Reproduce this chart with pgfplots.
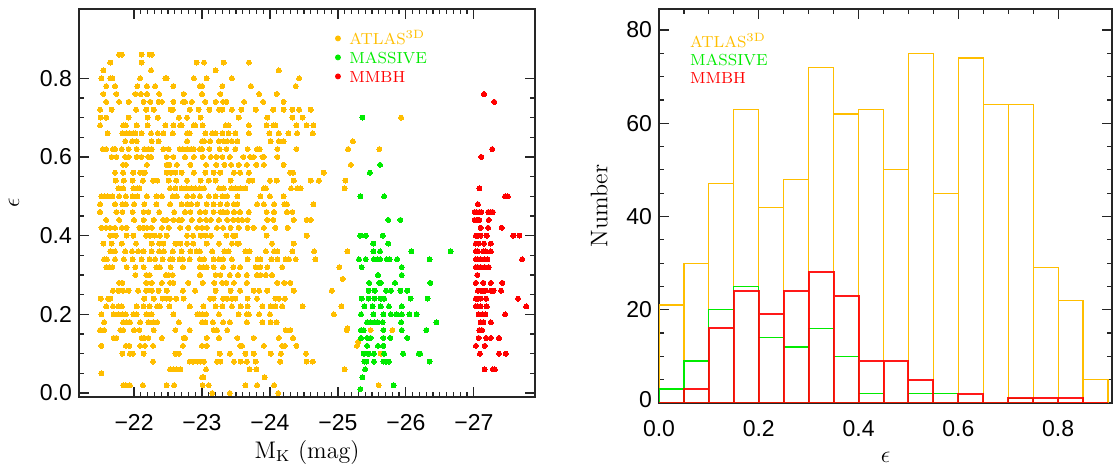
\documentclass[border=0pt]{standalone}
\usepackage{fontspec}
\usepackage{pgfplots}
\pgfplotsset{compat=1.18}
\newfontfamily\tickfont{Liberation Sans}
\definecolor{atlas}{RGB}{255,190,0}
\definecolor{massive}{RGB}{0,235,0}
\definecolor{mmbh}{RGB}{255,0,0}
\pgfplotsset{
  common/.style={
    scale only axis,
    axis line style={black!85, line width=0.7pt},
    tick style={black!85, line width=0.6pt},
    tick align=inside,
    major tick length=5pt, minor tick length=2.5pt,
    tick label style={font=\fontsize{11.5}{12}\tickfont},
    xticklabel style={yshift=-5pt},
    /pgf/number format/assume math mode=true,
    label style={font=\fontsize{12}{13}\selectfont},
  },
  dots/.style={only marks, mark=*, mark size=1.25pt, color=#1,
    mark options={fill=#1, draw=#1, line width=0pt}},
}
\begin{document}
\begin{tikzpicture}
\useasboundingbox (0,0) rectangle (558pt,233pt);
% ---------------- left panel ----------------
\begin{axis}[common, at={(39.5pt,34.5pt)}, anchor=south west,
  width=228pt, height=194pt,
  x dir=reverse, xmin=-27.9, xmax=-21.19, ymin=-0.01, ymax=0.976,
  xtick={-27,-26,-25,-24,-23,-22}, xticklabels={−27,−26,−25,−24,−23,−22},
  minor x tick num=9,
  ytick={0,0.2,0.4,0.6,0.8}, minor y tick num=3,
  yticklabel style={/pgf/number format/.cd, fixed, fixed zerofill, precision=1},
  xlabel={M$_{\mathrm{K}}$ (mag)}, ylabel={$\epsilon$},
  xlabel style={at={(axis description cs:0.5,-0.142)}, anchor=center},
  ylabel style={at={(axis description cs:-0.1425,0.5)}, anchor=center},
  legend cell align=left,
  legend style={at={(axis description cs:0.553,0.944)}, anchor=north west,
    draw=none, fill=none, font=\fontsize{8}{9}\selectfont, inner sep=0pt,
    row sep=2.2pt, nodes={inner sep=0.5pt, text height=6pt, text depth=0.3pt}},
]
\addplot[dots=atlas, legend image code/.code={\path (0pt,0pt) (8pt,0pt); \fill (3pt,0pt) circle (1.25pt);}] coordinates {
(-21.78,0.86) (-21.82,0.86) (-22.11,0.86) (-22.23,0.86) (-22.26,0.86)
(-21.65,0.84) (-22.11,0.84) (-22.92,0.84) (-23.03,0.84) (-23.32,0.84) (-23.69,0.84)
(-21.55,0.82) (-22.25,0.82) (-23.20,0.82) (-24.13,0.82)
(-21.52,0.80) (-21.65,0.80) (-21.68,0.80) (-22.09,0.80) (-22.46,0.80) (-22.48,0.80) (-22.88,0.80) (-23.07,0.80) (-23.44,0.80) (-24.43,0.80)
(-21.59,0.78) (-21.72,0.78) (-22.05,0.78) (-22.19,0.78) (-22.31,0.78) (-22.58,0.78) (-22.97,0.78) (-23.00,0.78) (-23.30,0.78) (-23.72,0.78) (-24.38,0.78)
(-21.55,0.76) (-21.74,0.76) (-22.02,0.76) (-22.10,0.76) (-22.19,0.76) (-22.37,0.76) (-22.73,0.76) (-23.00,0.76) (-23.27,0.76) (-23.84,0.76) (-24.10,0.76)
(-21.59,0.74) (-21.78,0.74) (-21.92,0.74) (-22.14,0.74) (-22.24,0.74) (-22.36,0.74) (-22.41,0.74) (-22.58,0.74) (-22.72,0.74) (-22.75,0.74) (-22.85,0.74) (-23.05,0.74) (-23.20,0.74) (-23.31,0.74) (-23.36,0.74) (-23.62,0.74) (-23.90,0.74) (-24.20,0.74)
(-21.50,0.72) (-21.67,0.72) (-22.03,0.72) (-22.18,0.72) (-22.29,0.72) (-22.54,0.72) (-22.57,0.72) (-22.82,0.72) (-22.95,0.72) (-23.11,0.72) (-23.25,0.72) (-23.30,0.72) (-23.44,0.72) (-23.58,0.72) (-23.79,0.72) (-24.05,0.72) (-24.20,0.72) (-24.33,0.72) (-24.43,0.72) (-24.60,0.72)
(-21.51,0.70) (-21.59,0.70) (-21.92,0.70) (-22.20,0.70) (-22.35,0.70) (-22.66,0.70) (-22.78,0.70) (-22.98,0.70) (-23.54,0.70) (-23.96,0.70) (-24.33,0.70) (-24.48,0.70)
(-21.50,0.68) (-21.84,0.68) (-21.88,0.68) (-22.04,0.68) (-22.20,0.68) (-22.46,0.68) (-22.58,0.68) (-22.68,0.68) (-22.70,0.68) (-22.88,0.68) (-22.90,0.68) (-23.01,0.68) (-23.35,0.68) (-23.39,0.68) (-23.69,0.68) (-23.95,0.68) (-24.05,0.68) (-24.08,0.68) (-24.39,0.68) (-24.54,0.68) (-24.64,0.68)
(-21.61,0.66) (-21.83,0.66) (-21.89,0.66) (-21.94,0.66) (-21.99,0.66) (-22.02,0.66) (-22.11,0.66) (-22.25,0.66) (-22.35,0.66) (-22.43,0.66) (-22.57,0.66) (-22.78,0.66) (-22.82,0.66) (-23.05,0.66) (-23.15,0.66) (-23.20,0.66) (-23.30,0.66) (-23.39,0.66) (-23.49,0.66) (-23.69,0.66) (-23.99,0.66) (-24.13,0.66) (-24.27,0.66) (-24.40,0.66) (-24.63,0.66)
(-21.87,0.64) (-21.97,0.64) (-22.04,0.64) (-22.26,0.64) (-22.36,0.64) (-22.78,0.64) (-23.00,0.64) (-23.03,0.64) (-23.12,0.64) (-23.25,0.64) (-23.32,0.64) (-23.37,0.64) (-23.44,0.64) (-23.52,0.64) (-24.01,0.64) (-24.13,0.64) (-24.20,0.64)
(-21.54,0.62) (-21.59,0.62) (-21.69,0.62) (-21.72,0.62) (-21.82,0.62) (-21.92,0.62) (-22.04,0.62) (-22.15,0.62) (-22.21,0.62) (-22.26,0.62) (-22.43,0.62) (-22.51,0.62) (-22.67,0.62) (-22.72,0.62) (-22.78,0.62) (-22.84,0.62) (-22.88,0.62) (-22.97,0.62) (-23.00,0.62) (-23.11,0.62) (-23.26,0.62) (-23.36,0.62) (-23.49,0.62) (-23.67,0.62) (-23.81,0.62) (-23.85,0.62) (-24.11,0.62) (-24.39,0.62)
(-21.67,0.60) (-21.74,0.60) (-21.87,0.60) (-21.92,0.60) (-22.04,0.60) (-22.11,0.60) (-22.21,0.60) (-22.25,0.60) (-22.48,0.60) (-22.58,0.60) (-22.75,0.60) (-22.88,0.60) (-23.01,0.60) (-23.13,0.60) (-23.21,0.60) (-23.30,0.60) (-23.41,0.60) (-23.61,0.60) (-23.71,0.60) (-23.76,0.60) (-23.89,0.60) (-23.91,0.60) (-24.11,0.60)
(-21.84,0.58) (-21.88,0.58) (-22.19,0.58) (-22.48,0.58) (-22.52,0.58) (-22.63,0.58) (-22.83,0.58) (-23.06,0.58) (-23.21,0.58) (-23.33,0.58) (-23.43,0.58) (-23.54,0.58) (-23.66,0.58) (-23.80,0.58) (-23.91,0.58) (-24.20,0.58)
(-21.72,0.56) (-21.84,0.56) (-21.99,0.56) (-22.09,0.56) (-22.13,0.56) (-22.16,0.56) (-22.48,0.56) (-22.54,0.56) (-22.61,0.56) (-22.70,0.56) (-22.88,0.56) (-23.05,0.56) (-23.17,0.56) (-23.27,0.56) (-23.47,0.56) (-23.56,0.56) (-23.69,0.56) (-24.30,0.56) (-24.34,0.56) (-24.79,0.56)
(-21.73,0.54) (-21.85,0.54) (-21.98,0.54) (-22.13,0.54) (-22.28,0.54) (-22.34,0.54) (-22.51,0.54) (-22.62,0.54) (-22.78,0.54) (-22.98,0.54) (-23.10,0.54) (-23.20,0.54) (-23.42,0.54) (-23.69,0.54) (-23.74,0.54) (-24.00,0.54) (-24.10,0.54) (-24.35,0.54) (-24.60,0.54) (-24.72,0.54)
(-21.77,0.52) (-21.84,0.52) (-21.99,0.52) (-22.05,0.52) (-22.08,0.52) (-22.53,0.52) (-22.61,0.52) (-22.70,0.52) (-22.77,0.52) (-22.84,0.52) (-22.90,0.52) (-22.97,0.52) (-23.03,0.52) (-23.25,0.52) (-23.32,0.52) (-23.43,0.52) (-23.49,0.52) (-23.57,0.52) (-23.64,0.52) (-23.91,0.52) (-23.94,0.52) (-24.31,0.52) (-24.40,0.52) (-24.45,0.52)
(-21.52,0.50) (-21.57,0.50) (-21.61,0.50) (-21.68,0.50) (-21.78,0.50) (-21.88,0.50) (-21.98,0.50) (-22.05,0.50) (-22.19,0.50) (-22.33,0.50) (-22.41,0.50) (-22.57,0.50) (-22.63,0.50) (-22.78,0.50) (-22.87,0.50) (-22.97,0.50) (-23.10,0.50) (-23.20,0.50) (-23.30,0.50) (-23.37,0.50) (-23.52,0.50) (-23.86,0.50) (-24.00,0.50) (-24.20,0.50)
(-21.50,0.48) (-21.72,0.48) (-21.83,0.48) (-21.88,0.48) (-22.00,0.48) (-22.15,0.48) (-22.33,0.48) (-22.53,0.48) (-22.70,0.48) (-22.78,0.48) (-22.84,0.48) (-22.93,0.48) (-23.07,0.48) (-23.17,0.48) (-23.27,0.48) (-23.37,0.48) (-23.47,0.48) (-23.52,0.48) (-23.81,0.48) (-23.91,0.48) (-24.06,0.48) (-24.21,0.48) (-24.25,0.48) (-24.64,0.48)
(-21.50,0.46) (-21.74,0.46) (-21.83,0.46) (-21.98,0.46) (-22.14,0.46) (-22.21,0.46) (-22.37,0.46) (-22.59,0.46) (-22.75,0.46) (-22.83,0.46) (-22.97,0.46) (-23.05,0.46) (-23.17,0.46) (-23.27,0.46) (-23.31,0.46) (-23.37,0.46) (-23.47,0.46) (-23.56,0.46) (-23.69,0.46) (-23.95,0.46) (-24.06,0.46) (-24.25,0.46) (-24.33,0.46)
(-21.59,0.44) (-21.78,0.44) (-22.00,0.44) (-22.14,0.44) (-22.29,0.44) (-22.43,0.44) (-22.48,0.44) (-22.58,0.44) (-22.66,0.44) (-22.70,0.44) (-22.85,0.44) (-22.97,0.44) (-23.06,0.44) (-23.13,0.44) (-23.25,0.44) (-23.37,0.44) (-23.46,0.44) (-23.53,0.44) (-23.59,0.44) (-23.67,0.44) (-23.96,0.44) (-24.05,0.44) (-24.35,0.44) (-24.54,0.44) (-24.60,0.44)
(-21.52,0.42) (-21.59,0.42) (-21.65,0.42) (-21.72,0.42) (-21.82,0.42) (-21.89,0.42) (-22.08,0.42) (-22.14,0.42) (-22.19,0.42) (-22.26,0.42) (-22.41,0.42) (-22.51,0.42) (-22.68,0.42) (-22.80,0.42) (-22.93,0.42) (-23.00,0.42) (-23.07,0.42) (-23.22,0.42) (-23.31,0.42) (-23.42,0.42) (-23.54,0.42) (-23.67,0.42) (-23.76,0.42) (-23.91,0.42) (-24.08,0.42) (-24.26,0.42)
(-21.65,0.40) (-21.73,0.40) (-21.89,0.40) (-21.99,0.40) (-22.18,0.40) (-22.23,0.40) (-22.30,0.40) (-22.38,0.40) (-22.48,0.40) (-22.78,0.40) (-22.87,0.40) (-22.98,0.40) (-23.05,0.40) (-23.13,0.40) (-23.36,0.40) (-23.46,0.40) (-23.49,0.40) (-23.95,0.40) (-24.54,0.40)
(-21.55,0.38) (-21.67,0.38) (-21.82,0.38) (-22.03,0.38) (-22.26,0.38) (-22.37,0.38) (-22.43,0.38) (-22.61,0.38) (-22.63,0.38) (-22.68,0.38) (-22.78,0.38) (-22.87,0.38) (-23.07,0.38) (-23.25,0.38) (-23.44,0.38) (-23.52,0.38) (-23.54,0.38) (-24.03,0.38) (-24.35,0.38)
(-21.65,0.36) (-21.72,0.36) (-21.87,0.36) (-21.97,0.36) (-22.06,0.36) (-22.14,0.36) (-22.26,0.36) (-22.37,0.36) (-22.44,0.36) (-22.57,0.36) (-22.70,0.36) (-22.83,0.36) (-22.92,0.36) (-22.97,0.36) (-23.15,0.36) (-23.33,0.36) (-23.39,0.36) (-23.64,0.36) (-23.70,0.36) (-23.94,0.36) (-24.06,0.36) (-24.11,0.36) (-24.33,0.36) (-24.65,0.36)
(-21.56,0.34) (-21.60,0.34) (-21.72,0.34) (-21.85,0.34) (-21.98,0.34) (-22.11,0.34) (-22.23,0.34) (-22.31,0.34) (-22.42,0.34) (-22.53,0.34) (-22.57,0.34) (-22.67,0.34) (-22.72,0.34) (-22.82,0.34) (-22.97,0.34) (-23.03,0.34) (-23.17,0.34) (-23.25,0.34) (-23.31,0.34) (-23.44,0.34) (-23.67,0.34) (-23.82,0.34) (-23.86,0.34) (-24.02,0.34) (-24.11,0.34) (-24.23,0.34) (-24.28,0.34) (-24.38,0.34) (-24.67,0.34)
(-21.59,0.32) (-21.64,0.32) (-21.68,0.32) (-21.89,0.32) (-22.02,0.32) (-22.14,0.32) (-22.33,0.32) (-22.38,0.32) (-22.54,0.32) (-22.72,0.32) (-22.97,0.32) (-23.02,0.32) (-23.07,0.32) (-23.17,0.32) (-23.31,0.32) (-23.46,0.32) (-23.56,0.32) (-23.79,0.32) (-23.86,0.32) (-23.96,0.32) (-24.18,0.32)
(-22.02,0.30) (-22.18,0.30) (-22.23,0.30) (-22.47,0.30) (-22.51,0.30) (-22.57,0.30) (-22.97,0.30) (-23.20,0.30) (-23.27,0.30) (-23.41,0.30) (-23.53,0.30) (-23.66,0.30) (-23.81,0.30) (-23.86,0.30) (-23.94,0.30) (-24.03,0.30)
(-21.78,0.28) (-21.83,0.28) (-22.18,0.28) (-22.26,0.28) (-22.41,0.28) (-22.53,0.28) (-22.58,0.28) (-22.80,0.28) (-23.01,0.28) (-23.18,0.28) (-23.30,0.28) (-23.36,0.28) (-23.47,0.28) (-23.66,0.28) (-24.11,0.28) (-24.21,0.28) (-24.30,0.28)
(-21.69,0.26) (-21.77,0.26) (-21.84,0.26) (-21.92,0.26) (-22.06,0.26) (-22.18,0.26) (-22.26,0.26) (-22.36,0.26) (-22.48,0.26) (-22.72,0.26) (-22.90,0.26) (-23.20,0.26) (-23.42,0.26) (-23.56,0.26) (-23.76,0.26) (-23.84,0.26) (-23.96,0.26) (-24.35,0.26)
(-21.51,0.24) (-21.62,0.24) (-21.65,0.24) (-22.15,0.24) (-22.29,0.24) (-22.42,0.24) (-22.48,0.24) (-22.53,0.24) (-22.62,0.24) (-22.73,0.24) (-23.12,0.24) (-23.17,0.24) (-23.31,0.24) (-23.37,0.24) (-23.44,0.24) (-23.49,0.24) (-23.67,0.24) (-23.81,0.24) (-24.08,0.24) (-24.13,0.24) (-24.22,0.24)
(-21.59,0.22) (-21.69,0.22) (-21.77,0.22) (-21.82,0.22) (-22.04,0.22) (-22.14,0.22) (-22.23,0.22) (-22.34,0.22) (-22.38,0.22) (-22.52,0.22) (-22.82,0.22) (-23.02,0.22) (-23.20,0.22) (-23.30,0.22) (-23.44,0.22) (-23.57,0.22) (-23.67,0.22) (-23.89,0.22) (-24.01,0.22) (-24.08,0.22) (-24.18,0.22) (-24.48,0.22)
(-21.52,0.20) (-21.70,0.20) (-21.77,0.20) (-21.83,0.20) (-21.88,0.20) (-21.99,0.20) (-22.04,0.20) (-22.18,0.20) (-22.26,0.20) (-22.58,0.20) (-22.93,0.20) (-22.97,0.20) (-23.00,0.20) (-23.06,0.20) (-23.25,0.20) (-23.54,0.20) (-23.66,0.20) (-23.69,0.20) (-23.84,0.20) (-24.00,0.20)
(-21.56,0.18) (-21.84,0.18) (-21.89,0.18) (-21.94,0.18) (-22.09,0.18) (-22.21,0.18) (-22.28,0.18) (-22.34,0.18) (-22.66,0.18) (-23.00,0.18) (-23.05,0.18) (-23.16,0.18) (-23.31,0.18) (-23.41,0.18) (-23.66,0.18) (-23.89,0.18) (-24.01,0.18) (-24.10,0.18)
(-21.50,0.16) (-21.56,0.16) (-21.80,0.16) (-21.84,0.16) (-22.00,0.16) (-22.08,0.16) (-22.29,0.16) (-22.61,0.16) (-22.82,0.16) (-23.17,0.16) (-23.22,0.16) (-23.37,0.16) (-24.23,0.16) (-24.30,0.16)
(-21.70,0.14) (-21.74,0.14) (-22.11,0.14) (-22.15,0.14) (-22.21,0.14) (-22.41,0.14) (-22.73,0.14) (-22.75,0.14) (-23.07,0.14) (-23.25,0.14) (-23.52,0.14) (-23.76,0.14) (-24.13,0.14) (-24.34,0.14)
(-21.52,0.12) (-21.88,0.12) (-21.93,0.12) (-22.09,0.12) (-22.16,0.12) (-22.28,0.12) (-22.72,0.12) (-23.00,0.12) (-23.07,0.12) (-23.56,0.12) (-23.59,0.12) (-23.91,0.12) (-24.18,0.12) (-24.22,0.12) (-24.39,0.12)
(-21.83,0.10) (-21.94,0.10) (-21.98,0.10) (-22.14,0.10) (-22.61,0.10) (-22.66,0.10) (-23.26,0.10) (-23.41,0.10) (-23.64,0.10) (-23.76,0.10) (-24.01,0.10) (-24.16,0.10) (-24.53,0.10)
(-22.28,0.08) (-22.82,0.08) (-22.87,0.08) (-22.93,0.08) (-22.98,0.08) (-23.03,0.08) (-23.22,0.08) (-23.27,0.08) (-23.47,0.08) (-23.57,0.08) (-23.66,0.08) (-23.79,0.08) (-24.15,0.08) (-24.54,0.08) (-24.63,0.08)
(-22.53,0.06) (-22.58,0.06) (-22.62,0.06) (-22.68,0.06) (-23.06,0.06) (-23.70,0.06) (-23.80,0.06) (-21.52,0.05)
(-23.00,0.04) (-23.02,0.04) (-23.92,0.04)
(-21.84,0.02) (-21.88,0.02) (-21.94,0.02) (-22.13,0.02) (-22.48,0.02) (-22.59,0.02) (-23.01,0.02) (-23.10,0.02) (-23.64,0.02) (-23.81,0.02) (-24.06,0.02)
(-23.15,0.00) (-23.41,0.00) (-24.12,0.00)
(-25.93,0.70) (-25.22,0.64) (-25.15,0.62) (-25.61,0.62) (-25.19,0.58) (-25.11,0.54) (-25.10,0.52)
(-25.14,0.36) (-25.02,0.32) (-25.07,0.29) (-24.91,0.26) (-25.05,0.22) (-24.94,0.20) (-25.13,0.16) (-25.14,0.165)
(-25.48,0.16) (-25.80,0.16) (-25.30,0.13) (-25.28,0.12) (-25.63,0.10) (-25.10,0.06) (-25.60,0.02)
};
\addlegendentry{\textcolor{atlas}{ATLAS$^{\mathrm{3D}}$}}
\addplot[dots=massive, legend image code/.code={\path (0pt,0pt) (8pt,0pt); \fill (3pt,0pt) circle (1.25pt);}] coordinates {
(-25.36,0.70) (-25.62,0.58) (-25.47,0.56) (-25.33,0.50) (-25.68,0.50) (-25.74,0.44) (-25.92,0.44)
(-25.33,0.40) (-25.41,0.40) (-25.66,0.40)
(-25.52,0.38) (-25.74,0.38)
(-25.52,0.36) (-25.62,0.36) (-26.08,0.36) (-26.66,0.36)
(-25.31,0.34) (-25.41,0.34) (-25.53,0.34) (-25.58,0.34) (-25.62,0.34) (-25.72,0.34) (-25.76,0.34) (-25.87,0.34) (-26.35,0.34)
(-25.35,0.32) (-25.94,0.32)
(-25.59,0.30) (-25.94,0.30)
(-25.46,0.28) (-25.61,0.28) (-25.63,0.28) (-25.84,0.28) (-26.36,0.28)
(-25.45,0.26) (-25.54,0.26) (-25.71,0.26) (-25.78,0.26) (-25.92,0.26) (-26.02,0.26)
(-25.35,0.24) (-25.45,0.24) (-25.54,0.24) (-25.63,0.24) (-25.68,0.24) (-26.07,0.24) (-26.32,0.24)
(-25.39,0.22) (-25.51,0.22) (-25.63,0.22) (-25.75,0.22) (-25.94,0.22)
(-25.34,0.20) (-25.52,0.20) (-25.67,0.20) (-25.78,0.20) (-25.86,0.20) (-25.94,0.20) (-26.05,0.20) (-26.16,0.20)
(-25.43,0.18) (-25.48,0.18) (-25.54,0.18) (-25.58,0.18) (-25.66,0.18) (-25.93,0.18) (-26.45,0.18)
(-25.34,0.16) (-25.38,0.16) (-25.67,0.16) (-25.94,0.16) (-26.30,0.16)
(-25.34,0.14) (-25.43,0.14) (-25.48,0.14) (-25.67,0.14) (-25.77,0.14) (-26.02,0.14)
(-25.43,0.12) (-25.59,0.12) (-25.67,0.12)
(-25.38,0.10) (-25.45,0.10) (-25.53,0.10) (-25.68,0.10) (-25.96,0.10) (-26.19,0.10) (-26.21,0.10)
(-25.39,0.08) (-25.42,0.08) (-25.53,0.08) (-25.67,0.08) (-25.71,0.08) (-25.75,0.08) (-26.35,0.08)
(-25.40,0.06) (-25.36,0.04) (-25.82,0.02) (-25.33,0.01)
};
\addlegendentry{\textcolor{massive}{MASSIVE}}
\addplot[dots=mmbh, legend image code/.code={\path (0pt,0pt) (8pt,0pt); \fill (3pt,0pt) circle (1.25pt);}] coordinates {
(-27.15,0.76) (-27.30,0.74) (-27.27,0.62) (-27.11,0.60) (-27.08,0.52) (-27.46,0.50) (-27.50,0.50) (-27.06,0.48)
(-27.01,0.46) (-27.04,0.46) (-27.08,0.46) (-27.11,0.46) (-27.21,0.46) (-27.25,0.46) (-27.28,0.46)
(-27.01,0.44) (-27.05,0.44) (-27.08,0.44) (-27.22,0.44)
(-27.10,0.42) (-27.21,0.42) (-27.41,0.42)
(-27.03,0.40) (-27.06,0.40) (-27.10,0.40) (-27.19,0.40) (-27.58,0.40) (-27.67,0.40)
(-27.03,0.38) (-27.07,0.38) (-27.15,0.38) (-27.25,0.38)
(-27.03,0.36) (-27.06,0.36) (-27.14,0.36) (-27.17,0.36) (-27.25,0.36)
(-27.03,0.34) (-27.06,0.34) (-27.10,0.34) (-27.16,0.34) (-27.20,0.34) (-27.71,0.34)
(-27.03,0.32) (-27.06,0.32) (-27.10,0.32) (-27.16,0.32) (-27.22,0.32)
(-27.05,0.30)
(-27.03,0.28) (-27.14,0.28) (-27.25,0.28) (-27.42,0.28)
(-27.06,0.26) (-27.10,0.26) (-27.14,0.26) (-27.17,0.26) (-27.25,0.26) (-27.29,0.26) (-27.40,0.26)
(-27.03,0.24) (-27.06,0.24) (-27.10,0.24) (-27.18,0.24) (-27.65,0.24)
(-27.03,0.22) (-27.06,0.22) (-27.10,0.22) (-27.19,0.22) (-27.77,0.22)
(-27.07,0.20) (-27.13,0.20) (-27.17,0.20) (-27.46,0.20)
(-27.10,0.18) (-27.14,0.18) (-27.25,0.18)
(-27.08,0.16) (-27.12,0.16)
(-27.07,0.14) (-27.18,0.14) (-27.25,0.14) (-27.37,0.14)
(-27.03,0.12) (-27.16,0.12)
(-27.09,0.10) (-27.37,0.10) (-27.47,0.10)
(-27.16,0.06) (-27.28,0.06) (-27.31,0.06)
};
\addlegendentry{\textcolor{mmbh}{MMBH}}
\end{axis}
% ---------------- right panel ----------------
\begin{axis}[common, at={(329.5pt,31.5pt)}, anchor=south west,
  width=226.5pt, height=197pt,
  xmin=0, xmax=0.908, ymin=0, ymax=84.5,
  xtick={0,0.2,0.4,0.6,0.8}, minor x tick num=3,
  ytick={0,20,40,60,80}, minor y tick num=3,
  yticklabels={\raisebox{3.5pt}{0},20,40,60,80},
  xticklabel style={/pgf/number format/.cd, fixed, fixed zerofill, precision=1},
  xlabel={$\epsilon$}, ylabel={Number},
  xlabel style={at={(axis description cs:0.5,-0.137)}, anchor=center},
  ylabel style={at={(axis description cs:-0.132,0.5)}, anchor=center},
]
\addplot[ybar interval, draw=atlas, fill=none, line width=0.6pt] coordinates {
(0,21) (0.05,30) (0.1,47) (0.15,63) (0.2,42) (0.25,48) (0.3,72) (0.35,62) (0.4,63)
(0.45,50) (0.5,75) (0.55,45) (0.6,74) (0.65,64) (0.7,64) (0.75,29) (0.8,22) (0.85,5) (0.9,5)};
\addplot[ybar interval, draw=massive, fill=none, line width=0.6pt] coordinates {
(0,3) (0.05,9) (0.1,20) (0.15,25) (0.2,14) (0.25,12) (0.3,16) (0.35,10) (0.4,2)
(0.45,0) (0.5,2) (0.55,2) (0.6,0) (0.65,0) (0.7,1) (0.75,0) (0.8,0)};
\addplot[ybar interval, draw=mmbh, draw opacity=0.9, fill=none, line width=1pt] coordinates {
(0,0) (0.05,3) (0.1,16) (0.15,24) (0.2,19) (0.25,24) (0.3,28) (0.35,23) (0.4,9)
(0.45,9) (0.5,5) (0.55,0) (0.6,2) (0.65,0) (0.7,1) (0.75,1) (0.8,1) (0.85,0) (0.9,0)};
\node[anchor=west, text=atlas, font=\fontsize{8}{9}\selectfont] at (rel axis cs:0.053,0.92) {ATLAS$^{\mathrm{3D}}$};
\node[anchor=west, text=massive, font=\fontsize{8}{9}\selectfont] at (rel axis cs:0.053,0.871) {MASSIVE};
\node[anchor=west, text=mmbh, font=\fontsize{8}{9}\selectfont] at (rel axis cs:0.053,0.826) {MMBH};
\end{axis}
\end{tikzpicture}
\end{document}
